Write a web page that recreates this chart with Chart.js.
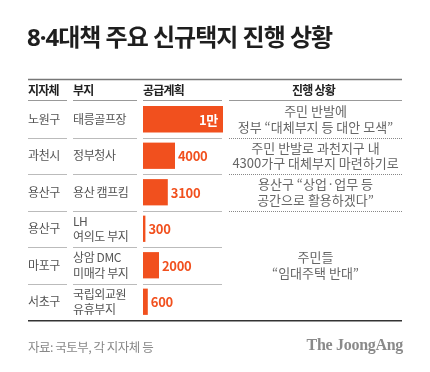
<!DOCTYPE html>
<html>
<head>
<meta charset="utf-8">
<script src="https://cdn.jsdelivr.net/npm/chart.js@4"></script>
<style>
html,body{margin:0;padding:0;background:#fff;}
#wrap{width:430px;height:372px;position:relative;}
</style>
</head>
<body>
<div id="wrap"><canvas id="c" width="430" height="372"></canvas></div>
<script>
const titleText = '8·4대책 주요 신규택지 진행 상황';
const headers = ['지자체', '부지', '공급계획', '진행 상황'];
const regions = ['노원구', '과천시', '용산구', '용산구', '마포구', '서초구'];
const sites = [['태릉골프장'], ['정부청사'], ['용산 캠프킴'], ['LH', '여의도 부지'], ['상암 DMC', '미매각 부지'], ['국립외교원', '유휴부지']];
const supply = [10000, 4000, 3100, 300, 2000, 600];
const supplyLabels = ['1만', '4000', '3100', '300', '2000', '600'];
const statusLines = [
  ['주민 반발에', '정부 “대체부지 등 대안 모색”'],
  ['주민 반발로 과천지구 내', '4300가구 대체부지 마련하기로'],
  ['용산구 “상업·업무 등', '공간으로 활용하겠다”'],
  ['주민들', '“임대주택 반대”']
];
const statusSpans = [1, 1, 1, 3];
const sourceText = '자료: 국토부, 각 지자체 등';
const brandText = 'The JoongAng';

const KR = '"Noto Sans CJK KR", "Noto Sans", sans-serif';
const BAR = '#f1501e';

const tablePlugin = {
  id: 'table',
  afterDraw(chart) {
    const ctx = chart.ctx;
    const ys = chart.scales.y;
    const area = chart.chartArea;
    const n = regions.length;
    const rowH = (area.bottom - area.top) / n;
    const cols = [[28, 67], [73, 137], [143, 222], [229, 402]];
    const xL = 28, xR = 402;
    ctx.save();
    // title
    ctx.fillStyle = '#1e1e1e';
    ctx.font = 'bold 24px "Noto Sans", "Noto Sans CJK KR", sans-serif';
    ctx.letterSpacing = '-1px';
    ctx.textBaseline = 'middle';
    ctx.textAlign = 'left';
    ctx.fillText(titleText, 27, 39);
    // top line
    ctx.letterSpacing = '0px';
    ctx.strokeStyle = '#777';
    ctx.lineWidth = 1.5;
    ctx.beginPath(); ctx.moveTo(xL, 79.5); ctx.lineTo(xR, 79.5); ctx.stroke();
    // headers
    ctx.fillStyle = '#222';
    ctx.font = 'bold 12px ' + KR;
    ctx.letterSpacing = '-0.8px';
    const hy = (79.5 + area.top) / 2;
    ctx.textAlign = 'left';
    ctx.fillText(headers[0], cols[0][0], hy);
    ctx.fillText(headers[1], cols[1][0], hy);
    ctx.fillText(headers[2], cols[2][0], hy);
    ctx.textAlign = 'center';
    ctx.fillText(headers[3], (cols[3][0] + cols[3][1]) / 2 - 2, hy);
    // header underline
    ctx.strokeStyle = '#999';
    ctx.lineWidth = 1;
    cols.forEach(c => { ctx.beginPath(); ctx.moveTo(c[0], area.top - 0.5); ctx.lineTo(c[1], area.top - 0.5); ctx.stroke(); });
    // row separators (left solid)
    ctx.strokeStyle = '#bbb';
    for (let i = 1; i < n; i++) {
      const y = Math.round(area.top + rowH * i) + 0.5;
      for (let k = 0; k < 3; k++) {
        ctx.beginPath(); ctx.moveTo(cols[k][0], y); ctx.lineTo(cols[k][1], y); ctx.stroke();
      }
    }
    // status column dotted separators
    ctx.setLineDash([1, 1]);
    ctx.strokeStyle = '#888';
    let acc = 0;
    for (let g = 0; g < statusSpans.length - 1; g++) {
      acc += statusSpans[g];
      const y = Math.round(area.top + rowH * acc) + 0.5;
      ctx.beginPath(); ctx.moveTo(cols[3][0], y); ctx.lineTo(cols[3][1], y); ctx.stroke();
    }
    ctx.setLineDash([]);
    // bottom line
    ctx.strokeStyle = '#333';
    ctx.lineWidth = 1.5;
    ctx.beginPath(); ctx.moveTo(xL, area.bottom + 0.75); ctx.lineTo(xR, area.bottom + 0.75); ctx.stroke();
    // body text
    ctx.fillStyle = '#555';
    ctx.font = '12px ' + KR;
    ctx.letterSpacing = '-0.4px';
    ctx.textAlign = 'left';
    for (let i = 0; i < n; i++) {
      const cy = ys.getPixelForValue(i);
      ctx.fillText(regions[i], cols[0][0], cy);
      const ls = sites[i];
      const lh = 15.5;
      ls.forEach((t, j) => ctx.fillText(t, cols[1][0], cy + (j - (ls.length - 1) / 2) * lh));
    }
    // status text
    ctx.fillStyle = '#666';
    ctx.font = '13px ' + KR;
    ctx.textAlign = 'center';
    ctx.letterSpacing = '0px';
    acc = 0;
    statusLines.forEach((ls, g) => {
      const y0 = area.top + rowH * acc;
      acc += statusSpans[g];
      const y1 = area.top + rowH * acc;
      const cy = (y0 + y1) / 2;
      ls.forEach((t, j) => ctx.fillText(t, (cols[3][0] + cols[3][1]) / 2, cy + (j - (ls.length - 1) / 2) * 15.5));
    });
    // value labels
    const meta = chart.getDatasetMeta(0);
    ctx.font = 'bold 13px ' + KR;
    ctx.letterSpacing = '-0.3px';
    meta.data.forEach((bar, i) => {
      const w = bar.x - bar.base;
      if (w > 40) {
        ctx.fillStyle = '#fff';
        ctx.textAlign = 'right';
        ctx.fillText(supplyLabels[i], bar.x - 5, bar.y + 0.5);
      } else {
        ctx.fillStyle = BAR;
        ctx.textAlign = 'left';
        ctx.fillText(supplyLabels[i], bar.x + 3, bar.y + 0.5);
      }
    });
    // footer
    ctx.fillStyle = '#888';
    ctx.font = '12.5px ' + KR;
    ctx.letterSpacing = '-0.5px';
    ctx.textAlign = 'left';
    ctx.fillText(sourceText, 28, 347);
    ctx.fillStyle = '#8a8a8a';
    ctx.font = 'bold 16px "Liberation Serif", "DejaVu Serif", serif';
    ctx.letterSpacing = '-0.3px';
    ctx.textAlign = 'right';
    ctx.fillText(brandText, 403, 346);
    ctx.restore();
  }
};

new Chart(document.getElementById('c'), {
  type: 'bar',
  data: {
    labels: regions,
    datasets: [{
      data: supply,
      backgroundColor: BAR,
      borderWidth: 0,
      barPercentage: 0.72,
      categoryPercentage: 1.0
    }]
  },
  options: {
    indexAxis: 'y',
    responsive: false,
    devicePixelRatio: 1,
    animation: false,
    layout: { padding: { left: 143, right: 207, top: 101, bottom: 52 } },
    plugins: { legend: { display: false }, tooltip: { enabled: false } },
    scales: {
      x: { display: false, min: 0, max: 10000 },
      y: { display: false }
    }
  },
  plugins: [tablePlugin]
});
</script>
</body>
</html>
